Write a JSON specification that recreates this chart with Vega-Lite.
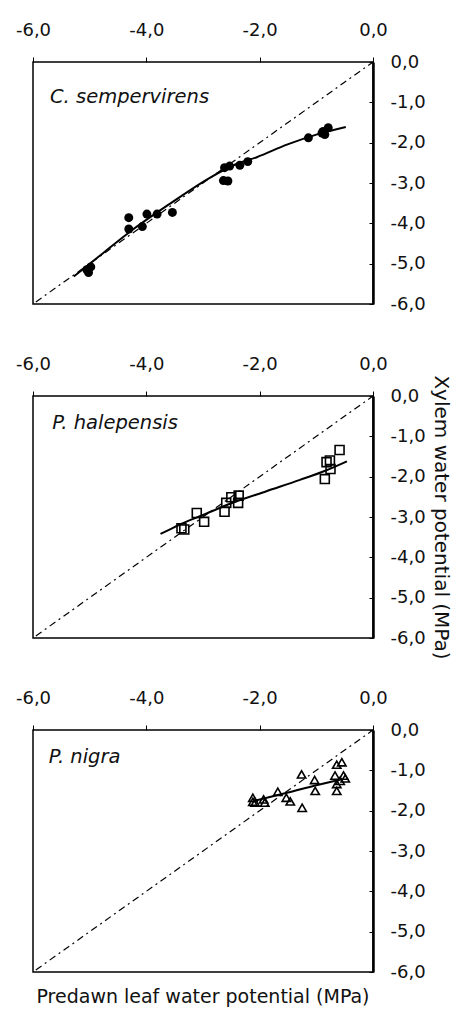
{
  "$schema": "https://vega.github.io/schema/vega-lite/v6.json",
  "background": "white",
  "padding": {"left": 14, "top": 20, "right": 0, "bottom": 2},
  "bounds": "flush",
  "spacing": 92,
  "config": {
    "font": "DejaVu Sans",
    "view": {"stroke": "black", "strokeWidth": 1.5},
    "axis": {
      "grid": false,
      "labelFont": "DejaVu Sans",
      "labelFontSize": 18,
      "labelColor": "#111",
      "labelFlush": false,
      "labelOverlap": false,
      "tickColor": "black",
      "domainColor": "black",
      "titleFont": "DejaVu Sans",
      "titleFontWeight": "normal",
      "titleColor": "#111"
    },
    "title": {"font": "DejaVu Sans", "fontWeight": "normal", "color": "#111"}
  },
  "datasets": {
    "diag": [{"x": -5.95, "y": -5.95}, {"x": 0, "y": 0}],
    "pts": [
      {"species": "C. sempervirens", "x": -5.02, "y": -5.22},
      {"species": "C. sempervirens", "x": -4.98, "y": -5.08},
      {"species": "C. sempervirens", "x": -5.05, "y": -5.15},
      {"species": "C. sempervirens", "x": -4.31, "y": -3.86},
      {"species": "C. sempervirens", "x": -4.31, "y": -4.14},
      {"species": "C. sempervirens", "x": -4.07, "y": -4.08},
      {"species": "C. sempervirens", "x": -3.99, "y": -3.77},
      {"species": "C. sempervirens", "x": -3.81, "y": -3.77},
      {"species": "C. sempervirens", "x": -3.54, "y": -3.73},
      {"species": "C. sempervirens", "x": -2.62, "y": -2.62},
      {"species": "C. sempervirens", "x": -2.53, "y": -2.58},
      {"species": "C. sempervirens", "x": -2.64, "y": -2.94},
      {"species": "C. sempervirens", "x": -2.56, "y": -2.95},
      {"species": "C. sempervirens", "x": -2.35, "y": -2.56},
      {"species": "C. sempervirens", "x": -2.21, "y": -2.47},
      {"species": "C. sempervirens", "x": -1.14, "y": -1.88},
      {"species": "C. sempervirens", "x": -0.88, "y": -1.72},
      {"species": "C. sempervirens", "x": -0.79, "y": -1.63},
      {"species": "C. sempervirens", "x": -0.85, "y": -1.8},
      {"species": "C. sempervirens", "x": -0.9, "y": -1.76},
      {"species": "P. halepensis", "x": -3.38, "y": -3.28},
      {"species": "P. halepensis", "x": -3.33, "y": -3.31},
      {"species": "P. halepensis", "x": -3.11, "y": -2.9},
      {"species": "P. halepensis", "x": -2.98, "y": -3.12},
      {"species": "P. halepensis", "x": -2.62, "y": -2.87},
      {"species": "P. halepensis", "x": -2.59, "y": -2.65},
      {"species": "P. halepensis", "x": -2.5, "y": -2.51},
      {"species": "P. halepensis", "x": -2.37, "y": -2.47},
      {"species": "P. halepensis", "x": -2.38, "y": -2.65},
      {"species": "P. halepensis", "x": -0.85, "y": -2.06},
      {"species": "P. halepensis", "x": -0.82, "y": -1.64},
      {"species": "P. halepensis", "x": -0.76, "y": -1.6},
      {"species": "P. halepensis", "x": -0.75, "y": -1.81},
      {"species": "P. halepensis", "x": -0.59, "y": -1.34},
      {"species": "P. nigra", "x": -2.12, "y": -1.68},
      {"species": "P. nigra", "x": -2.08, "y": -1.8},
      {"species": "P. nigra", "x": -2.12, "y": -1.78},
      {"species": "P. nigra", "x": -1.93, "y": -1.72},
      {"species": "P. nigra", "x": -1.91, "y": -1.8},
      {"species": "P. nigra", "x": -1.68, "y": -1.53},
      {"species": "P. nigra", "x": -1.53, "y": -1.68},
      {"species": "P. nigra", "x": -1.46, "y": -1.77},
      {"species": "P. nigra", "x": -1.26, "y": -1.1},
      {"species": "P. nigra", "x": -1.25, "y": -1.93},
      {"species": "P. nigra", "x": -1.03, "y": -1.24},
      {"species": "P. nigra", "x": -1.02, "y": -1.51},
      {"species": "P. nigra", "x": -0.64, "y": -0.86},
      {"species": "P. nigra", "x": -0.55, "y": -0.8},
      {"species": "P. nigra", "x": -0.67, "y": -1.13},
      {"species": "P. nigra", "x": -0.52, "y": -1.13},
      {"species": "P. nigra", "x": -0.64, "y": -1.51},
      {"species": "P. nigra", "x": -0.49, "y": -1.2},
      {"species": "P. nigra", "x": -0.64, "y": -1.34},
      {"species": "P. nigra", "x": -0.58, "y": -1.26}
    ],
    "fit": [
      {"species": "C. sempervirens", "x": -5.28, "y": -5.32},
      {"species": "C. sempervirens", "x": -4.8, "y": -4.78},
      {"species": "C. sempervirens", "x": -4.3, "y": -4.22},
      {"species": "C. sempervirens", "x": -3.6, "y": -3.53},
      {"species": "C. sempervirens", "x": -2.88, "y": -2.87},
      {"species": "C. sempervirens", "x": -2.41, "y": -2.53},
      {"species": "C. sempervirens", "x": -2.05, "y": -2.36},
      {"species": "C. sempervirens", "x": -1.52, "y": -2.05},
      {"species": "C. sempervirens", "x": -1.0, "y": -1.8},
      {"species": "C. sempervirens", "x": -0.48, "y": -1.61},
      {"species": "P. halepensis", "x": -3.75, "y": -3.42},
      {"species": "P. halepensis", "x": -3.6, "y": -3.32},
      {"species": "P. halepensis", "x": -3.4, "y": -3.18},
      {"species": "P. halepensis", "x": -3.0, "y": -2.95},
      {"species": "P. halepensis", "x": -2.5, "y": -2.66},
      {"species": "P. halepensis", "x": -1.88, "y": -2.36},
      {"species": "P. halepensis", "x": -1.29, "y": -2.08},
      {"species": "P. halepensis", "x": -0.82, "y": -1.84},
      {"species": "P. halepensis", "x": -0.46, "y": -1.62},
      {"species": "P. nigra", "x": -2.11, "y": -1.76},
      {"species": "P. nigra", "x": -1.5, "y": -1.55},
      {"species": "P. nigra", "x": -1.0, "y": -1.37},
      {"species": "P. nigra", "x": -0.55, "y": -1.22}
    ],
    "labels": [
      {"species": "C. sempervirens", "x": -5.7, "y": -0.88},
      {"species": "P. halepensis", "x": -5.66, "y": -0.67},
      {"species": "P. nigra", "x": -5.72, "y": -0.68}
    ]
  },
  "vconcat": [
    {
      "width": 340,
      "height": 242,
      "layer": [
        {
          "data": {"name": "diag"},
          "mark": {"type": "line", "color": "black", "strokeWidth": 1.2, "strokeDash": [7, 4, 2, 4]},
          "encoding": {
            "x": {"field": "x", "type": "quantitative", "scale": {"domain": [-6, 0], "nice": false, "zero": false},
              "axis": {"orient": "top", "values": [-6, -4, -2, 0], "labelExpr": "replace(replace(format(datum.value,'.1f'),'.',','),'\u2212','-')", "tickSize": 5, "labelPadding": 18, "domain": false, "title": null, "labelOverlap": false}},
            "y": {"field": "y", "type": "quantitative", "scale": {"domain": [-6, 0], "nice": false, "zero": false},
              "axis": {"orient": "right", "values": [0, -1, -2, -3, -4, -5, -6], "tickCount": 7, "labelExpr": "replace(replace(format(datum.value,'.1f'),'.',','),'\u2212','-')", "tickSize": -4, "labelPadding": 21, "domainWidth": 2.5, "title": null, "labelOverlap": false}}
          }
        },
        {
          "data": {"name": "fit"},
          "transform": [{"filter": "datum.species === 'C. sempervirens'"}],
          "mark": {"type": "line", "color": "black", "strokeWidth": 2, "interpolate": "monotone"},
          "encoding": {"x": {"field": "x", "type": "quantitative"}, "y": {"field": "y", "type": "quantitative"}}
        },
        {
          "data": {"name": "pts"},
          "transform": [{"filter": "datum.species === 'C. sempervirens'"}],
          "mark": {"type": "point", "shape": "circle", "filled": true, "color": "black", "opacity": 1, "size": 80},
          "encoding": {"x": {"field": "x", "type": "quantitative"}, "y": {"field": "y", "type": "quantitative"}}
        },
        {
          "data": {"name": "labels"},
          "transform": [{"filter": "datum.species === 'C. sempervirens'"}],
          "mark": {"type": "text", "align": "left", "baseline": "middle", "font": "DejaVu Sans", "fontStyle": "italic", "fontSize": 19.5, "color": "#111"},
          "encoding": {"x": {"field": "x", "type": "quantitative"}, "y": {"field": "y", "type": "quantitative"}, "text": {"field": "species"}}
        }
      ]
    },
    {
      "width": 340,
      "height": 242,
      "layer": [
        {
          "data": {"name": "diag"},
          "mark": {"type": "line", "color": "black", "strokeWidth": 1.2, "strokeDash": [7, 4, 2, 4]},
          "encoding": {
            "x": {"field": "x", "type": "quantitative", "scale": {"domain": [-6, 0], "nice": false, "zero": false},
              "axis": {"orient": "top", "values": [-6, -4, -2, 0], "labelExpr": "replace(replace(format(datum.value,'.1f'),'.',','),'\u2212','-')", "tickSize": 5, "labelPadding": 18, "domain": false, "title": null, "labelOverlap": false}},
            "y": {"field": "y", "type": "quantitative", "scale": {"domain": [-6, 0], "nice": false, "zero": false},
              "axis": {"orient": "right", "values": [0, -1, -2, -3, -4, -5, -6], "tickCount": 7, "labelExpr": "replace(replace(format(datum.value,'.1f'),'.',','),'\u2212','-')", "tickSize": -4, "labelPadding": 21, "domainWidth": 2.5, "labelOverlap": false,
                "title": "Xylem water potential (MPa)", "titleFontSize": 20, "titlePadding": 5}}
          }
        },
        {
          "data": {"name": "fit"},
          "transform": [{"filter": "datum.species === 'P. halepensis'"}],
          "mark": {"type": "line", "color": "black", "strokeWidth": 2, "interpolate": "monotone"},
          "encoding": {"x": {"field": "x", "type": "quantitative"}, "y": {"field": "y", "type": "quantitative"}}
        },
        {
          "data": {"name": "pts"},
          "transform": [{"filter": "datum.species === 'P. halepensis'"}],
          "mark": {"type": "point", "shape": "square", "filled": false, "color": "black", "opacity": 1, "strokeWidth": 1.6, "size": 80},
          "encoding": {"x": {"field": "x", "type": "quantitative"}, "y": {"field": "y", "type": "quantitative"}}
        },
        {
          "data": {"name": "labels"},
          "transform": [{"filter": "datum.species === 'P. halepensis'"}],
          "mark": {"type": "text", "align": "left", "baseline": "middle", "font": "DejaVu Sans", "fontStyle": "italic", "fontSize": 19.5, "color": "#111"},
          "encoding": {"x": {"field": "x", "type": "quantitative"}, "y": {"field": "y", "type": "quantitative"}, "text": {"field": "species"}}
        }
      ]
    },
    {
      "width": 340,
      "height": 242,
      "title": {"text": "Predawn leaf water potential (MPa)", "orient": "bottom", "anchor": "middle", "frame": "group", "fontSize": 19, "offset": 7},
      "layer": [
        {
          "data": {"name": "diag"},
          "mark": {"type": "line", "color": "black", "strokeWidth": 1.2, "strokeDash": [7, 4, 2, 4]},
          "encoding": {
            "x": {"field": "x", "type": "quantitative", "scale": {"domain": [-6, 0], "nice": false, "zero": false},
              "axis": {"orient": "top", "values": [-6, -4, -2, 0], "labelExpr": "replace(replace(format(datum.value,'.1f'),'.',','),'\u2212','-')", "tickSize": 5, "labelPadding": 18, "domain": false, "title": null, "labelOverlap": false}},
            "y": {"field": "y", "type": "quantitative", "scale": {"domain": [-6, 0], "nice": false, "zero": false},
              "axis": {"orient": "right", "values": [0, -1, -2, -3, -4, -5, -6], "tickCount": 7, "labelExpr": "replace(replace(format(datum.value,'.1f'),'.',','),'\u2212','-')", "tickSize": -4, "labelPadding": 21, "domainWidth": 2.5, "title": null, "labelOverlap": false}}
          }
        },
        {
          "data": {"name": "fit"},
          "transform": [{"filter": "datum.species === 'P. nigra'"}],
          "mark": {"type": "line", "color": "black", "strokeWidth": 2, "interpolate": "monotone"},
          "encoding": {"x": {"field": "x", "type": "quantitative"}, "y": {"field": "y", "type": "quantitative"}}
        },
        {
          "data": {"name": "pts"},
          "transform": [{"filter": "datum.species === 'P. nigra'"}],
          "mark": {"type": "point", "shape": "triangle-up", "filled": false, "color": "black", "opacity": 1, "strokeWidth": 1.6, "size": 70},
          "encoding": {"x": {"field": "x", "type": "quantitative"}, "y": {"field": "y", "type": "quantitative"}}
        },
        {
          "data": {"name": "labels"},
          "transform": [{"filter": "datum.species === 'P. nigra'"}],
          "mark": {"type": "text", "align": "left", "baseline": "middle", "font": "DejaVu Sans", "fontStyle": "italic", "fontSize": 19.5, "color": "#111"},
          "encoding": {"x": {"field": "x", "type": "quantitative"}, "y": {"field": "y", "type": "quantitative"}, "text": {"field": "species"}}
        }
      ]
    }
  ]
}
